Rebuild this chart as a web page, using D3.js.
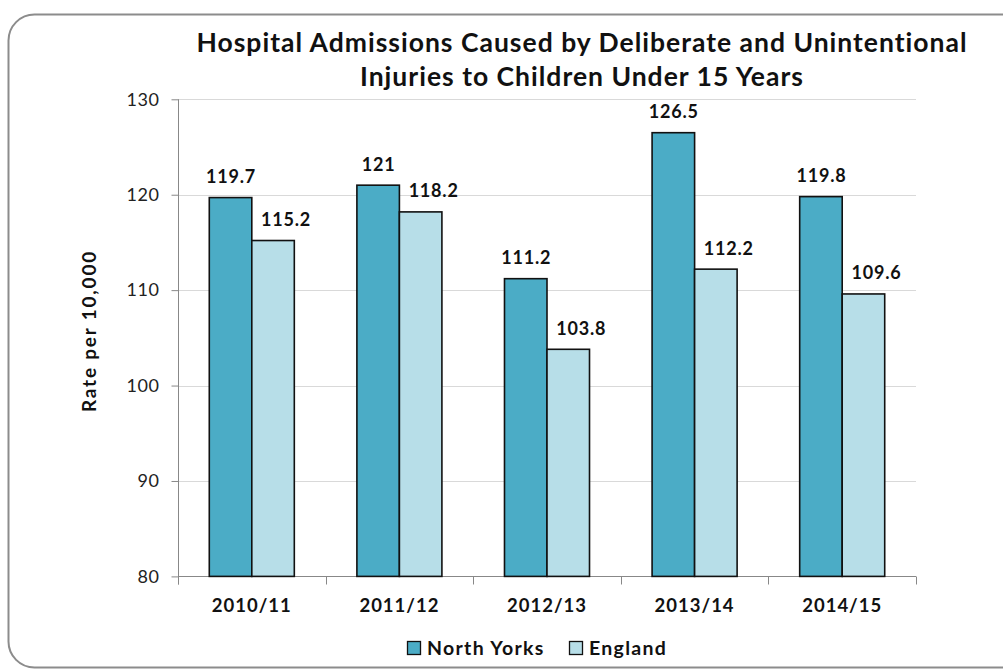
<!DOCTYPE html>
<html><head><meta charset="utf-8">
<script src="https://cdn.jsdelivr.net/npm/d3@7"></script>
<style>
html,body{margin:0;padding:0;background:#fff;}
svg{display:block;font-family:Lato,"Open Sans",sans-serif;}
</style></head>
<body>
<script>
const categories = ["2010/11","2011/12","2012/13","2013/14","2014/15"];
const seriesNames = ["North Yorks","England"];
const northYorks = [119.7,121,111.2,126.5,119.8];
const england = [115.2,118.2,103.8,112.2,109.6];
const yTicks = [80,90,100,110,120,130];
const titleLines = ["Hospital Admissions Caused by Deliberate and Unintentional","Injuries to Children Under 15 Years"];
const yTitle = "Rate per 10,000";

const W=1003,H=671;
const colors=["#4BACC6","#B7DEE8"];
const labelShift=[0.5,13];
const svg=d3.select("body").append("svg").attr("width",W).attr("height",H);

svg.append("rect").attr("x",8.5).attr("y",14.5).attr("width",1020).attr("height",653)
  .attr("rx",26).attr("fill","#fff").attr("stroke","#8c8c8c").attr("stroke-width",2);

const m={l:178,r:916,t:99.3,b:576.4};
const x=d3.scaleBand().domain(categories).range([m.l,m.r]).paddingInner(0.424).paddingOuter(0.212);
const xs=d3.scaleBand().domain(seriesNames).range([0,x.bandwidth()]);
const y=d3.scaleLinear().domain([80,130]).range([m.b,m.t]);

// gridlines
svg.append("g").selectAll("line").data(yTicks.slice(1)).join("line")
  .attr("x1",m.l).attr("x2",m.r).attr("y1",d=>Math.round(y(d))+0.5).attr("y2",d=>Math.round(y(d))+0.5)
  .attr("stroke","#d9d9d9").attr("stroke-width",1);

// y axis
const ya=svg.append("g").attr("transform",`translate(${m.l+0.5},0)`)
  .call(d3.axisLeft(y).tickValues(yTicks).tickSize(7).tickPadding(12));
ya.select(".domain").attr("stroke","#888").attr("d",`M0,${m.t}V${m.b+8}`);
ya.selectAll(".tick line").attr("stroke","#888");
ya.selectAll(".tick text").attr("font-size",18).attr("fill","#222").attr("font-family","Lato,sans-serif")
  .attr("letter-spacing","0.6px");

// x axis
const xa=svg.append("g").attr("transform",`translate(0,${Math.round(m.b)+0.5})`)
  .call(d3.axisBottom(x).tickSize(0).tickPadding(22));
xa.select(".domain").attr("stroke","#888").attr("d",`M${m.l},0H${m.r}`);
xa.selectAll(".tick text").attr("font-size",18.5).attr("font-weight","bold").attr("fill","#111").attr("font-family","Lato,sans-serif")
  .attr("letter-spacing","1px");
// category boundary ticks
const bounds=categories.map((c,i)=>m.l+(m.r-m.l)*i/categories.length).concat([m.r]);
xa.append("g").selectAll("line").data(bounds).join("line")
  .attr("x1",d=>Math.round(d)+0.5).attr("x2",d=>Math.round(d)+0.5).attr("y1",0).attr("y2",8).attr("stroke","#888");

const data=categories.map((c,i)=>({c,vals:[northYorks[i],england[i]]}));
const groups=svg.append("g").selectAll("g").data(data).join("g")
  .attr("transform",d=>`translate(${x(d.c)},0)`);
groups.selectAll("rect").data(d=>d.vals.map((v,j)=>({v,s:seriesNames[j],j}))).join("rect")
  .attr("x",d=>xs(d.s)).attr("width",xs.bandwidth())
  .attr("y",d=>y(d.v)).attr("height",d=>y(80)-y(d.v))
  .attr("fill",d=>colors[d.j]).attr("stroke","#111").attr("stroke-width",1.6);
groups.selectAll("text").data(d=>d.vals.map((v,j)=>({v,s:seriesNames[j],j}))).join("text")
  .attr("x",d=>xs(d.s)+xs.bandwidth()/2+labelShift[d.j]).attr("y",d=>y(d.v)-14.5)
  .attr("text-anchor","middle").attr("font-size",18).attr("font-weight","bold").attr("fill","#111")
  .attr("letter-spacing","0.8px")
  .text(d=>d.v);

// title
svg.append("text").attr("x",582).attr("y",52).attr("text-anchor","middle")
  .attr("font-size",26.5).attr("font-weight","bold").attr("fill","#111").attr("letter-spacing","1px").text(titleLines[0]);
svg.append("text").attr("x",582).attr("y",86).attr("text-anchor","middle")
  .attr("font-size",26.5).attr("font-weight","bold").attr("fill","#111").attr("letter-spacing","1px").text(titleLines[1]);

// y title
svg.append("text").attr("transform","translate(96,331) rotate(-90)").attr("text-anchor","middle")
  .attr("font-size",19).attr("font-weight","bold").attr("fill","#111").attr("letter-spacing","1.8px").text(yTitle);

// legend
const leg=svg.append("g");
const legX=[407,569];
seriesNames.forEach((s,i)=>{
  leg.append("rect").attr("x",legX[i]+0.5).attr("y",641.5).attr("width",13).attr("height",13)
    .attr("fill",colors[i]).attr("stroke","#111").attr("stroke-width",1.3);
  leg.append("text").attr("x",legX[i]+20).attr("y",655).attr("font-size",19.5).attr("font-weight","bold")
    .attr("fill","#111").attr("letter-spacing","1.3px").text(s);
});
</script>
</body></html>
